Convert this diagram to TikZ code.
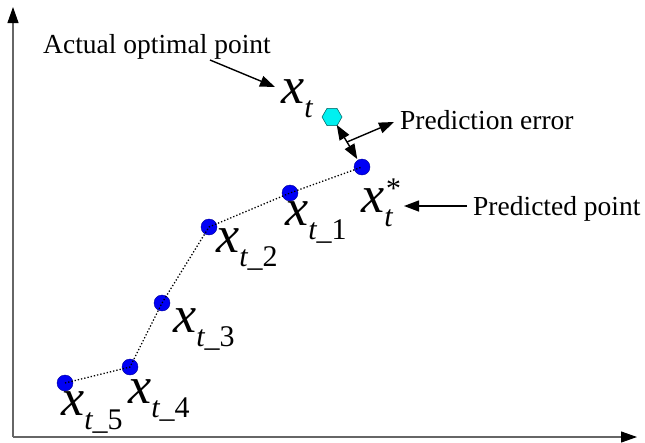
\documentclass[tikz,border=0pt]{standalone}
\usepackage{fontspec}
\setmainfont{Liberation Serif}
\usetikzlibrary{arrows.meta,shapes.geometric,calc}
\definecolor{dotblue}{RGB}{0,0,245}
\definecolor{hexcyan}{RGB}{0,240,240}
\newcommand\xbig{\fontsize{52}{52}\selectfont\itshape x}
\newcommand\xsub[1]{\raisebox{-14pt}{\fontsize{30}{30}\selectfont #1}}
\newcommand\xl[1]{\xbig\xsub{\itshape t\upshape\_#1}}
\begin{document}
\begin{tikzpicture}[x=1pt,y=-1pt,
  pt/.style={circle,fill=dotblue,draw=blue!60!black,line width=0.4pt,minimum size=16pt,inner sep=0pt},
  lab/.style={anchor=base west,inner sep=0pt},
  txt/.style={anchor=base west,inner sep=0pt,font=\fontsize{27.5}{30}\selectfont},
  tip/.style={Triangle[length=15pt,width=11pt]},
  arr/.style={line width=1.4pt,-{Triangle[length=15pt,width=11pt]}},
  axis/.style={draw=black!60,line width=1.1pt,-{Triangle[length=16pt,width=11pt,color=black]}},
  trail/.style={dotted,line width=1.3pt}]
\useasboundingbox (0,0) rectangle (645,442);
% axes
\coordinate (o) at (13,437);
\coordinate (ytop) at (13,7);
\coordinate (xend) at (637,437);
\draw[axis] (o) -- (ytop);
\draw[axis] (o) -- (xend);
% points
\node[pt] (p5) at (65,383) {};
\node[pt] (p4) at (130,367) {};
\node[pt] (p3) at (162,303) {};
\node[pt] (p2) at (209,227) {};
\node[pt] (p1) at (290,193) {};
\node[pt] (ps) at (362,167) {};
\draw[trail] (p5.center) -- (p4.center) -- (p3.center) -- (p2.center) -- (p1.center) -- (ps.center);
% actual point
\node[regular polygon,regular polygon sides=6,fill=hexcyan,draw=teal!70!black,line width=0.5pt,minimum size=20pt,inner sep=0pt] (hx) at (332,117) {};
% labels
\node[lab] (l5) at (61,415) {\xl{5}};
\node[lab] (l4) at (128,403) {\xl{4}};
\node[lab] (l3) at (173,332) {\xl{3}};
\node[lab] (l2) at (216,252) {\xl{2}};
\node[lab] (l1) at (285,225) {\xl{1}};
\node[lab] (lt) at (281,103) {\xbig\xsub{\itshape t}};
\node[lab] (ls) at (361,212) {\xbig\xsub{\itshape t}\hspace{-8pt}\raisebox{14pt}{\fontsize{30}{30}\selectfont *}};
% texts
\node[txt] (ta) at (43,53) {Actual optimal point};
\node[txt] (te) at (400,129) {Prediction error};
\node[txt] (tp) at (473,215) {Predicted point};
% arrows
\coordinate (a1) at (210,60);
\coordinate (a2) at (275,87);
\draw[arr] (a1) -- (a2);
\draw[line width=1.4pt,{Triangle[length=15pt,width=11pt]}-{Triangle[length=15pt,width=11pt]},shorten <=-1pt,shorten >=1pt] (hx) -- (ps);
\coordinate (m) at ($(hx)!0.5!(ps)$);
\coordinate (e2) at (394,122);
\draw[arr] (m) -- (e2);
\coordinate (b1) at (467,206);
\coordinate (b2) at (404,206);
\draw[arr] (b1) -- (b2);
\end{tikzpicture}
\end{document}
